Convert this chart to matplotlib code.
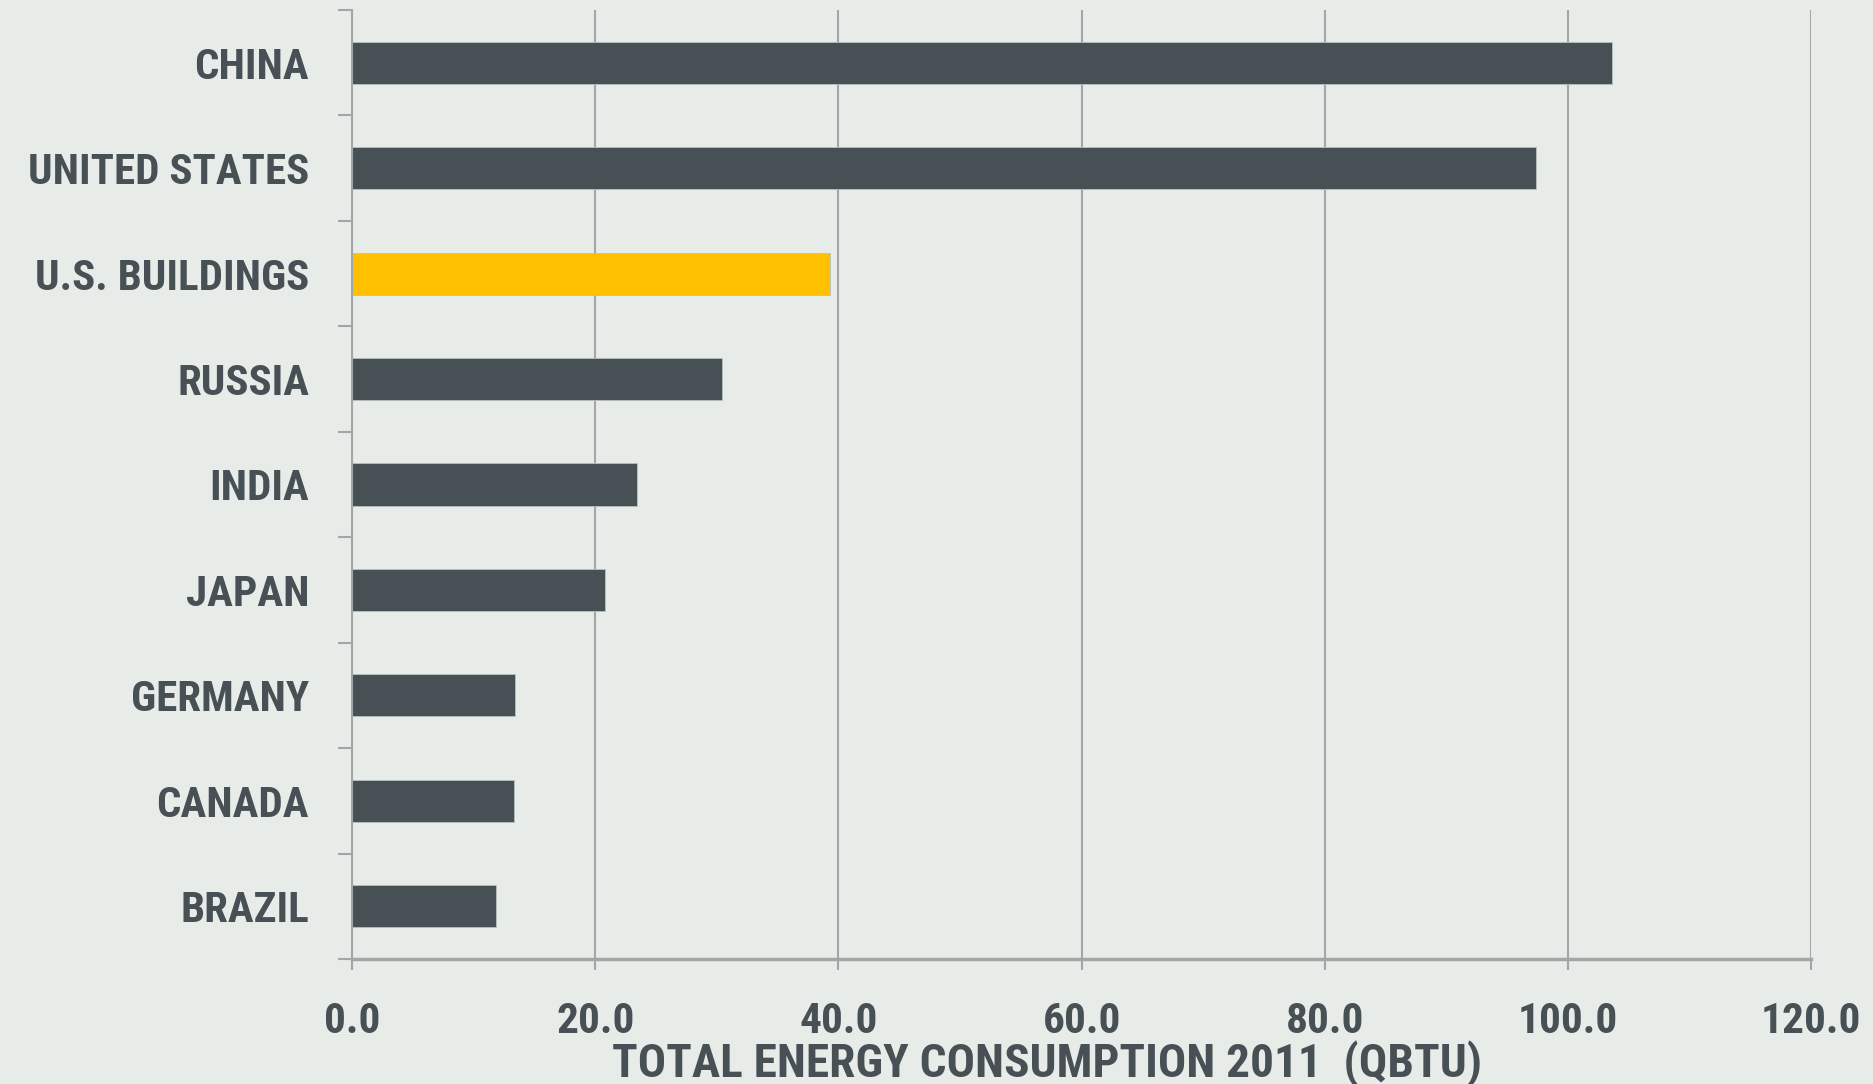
import matplotlib
matplotlib.use('Agg')
import matplotlib.pyplot as plt
from matplotlib.ticker import FixedLocator
from matplotlib import font_manager

# data
countries = ['CHINA', 'UNITED STATES', 'U.S. BUILDINGS', 'RUSSIA', 'INDIA',
             'JAPAN', 'GERMANY', 'CANADA', 'BRAZIL']
energy_qbtu = [103.6, 97.4, 39.3, 30.4, 23.4, 20.8, 13.4, 13.3, 11.8]
highlight = 'U.S. BUILDINGS'
x_ticks = [0, 20, 40, 60, 80, 100, 120]
x_title = 'TOTAL ENERGY CONSUMPTION 2011  (QBTU)'

bg = '#e8ece9'
dark = '#475054'
gold = '#ffc000'
grid_c = '#a3a6a6'

# narrow sans if there is one, else Roboto
names = {f.name for f in font_manager.fontManager.ttflist}
fam = 'DejaVu Sans'
for f in ['Roboto Condensed', 'Open Sans Condensed', 'Liberation Sans Narrow',
          'Roboto', 'Lato']:
    if f in names:
        fam = f
        break
plt.rcParams['font.family'] = [fam, 'DejaVu Sans']

fig = plt.figure(figsize=(18.73, 10.84), dpi=100, facecolor=bg)
rend = fig.canvas.get_renderer()


def fit_size(txt, width_px, max_size):
    # font size so that txt is about width_px wide
    t = fig.text(0, 0, txt, fontsize=20, fontweight='bold')
    w = t.get_window_extent(rend).width
    t.remove()
    return min(max_size, 20 * width_px / w)


cat_fs = fit_size('UNITED STATES', 283, 31)
num_fs = fit_size('100.0', 100, 33)
lab_fs = fit_size(x_title, 888, 34)

ax = fig.add_axes([0.188, 0.1153, 0.779, 0.8755], facecolor=bg)

cols = [gold if c == highlight else dark for c in countries]
ypos = range(len(countries))
ax.barh(ypos, energy_qbtu, height=0.4, color=cols, edgecolor='#b9c0c0',
        linewidth=0.6, zorder=3)

ax.set_xlim(0, 120)
ax.set_ylim(len(countries) - 0.5, -0.5)
ax.xaxis.set_major_locator(FixedLocator(x_ticks))
ax.set_xticklabels(['%.1f' % v for v in x_ticks])
ax.grid(axis='x', color=grid_c, linewidth=1.5, zorder=0)

ax.set_yticks(list(ypos))
ax.set_yticklabels(countries)
ax.yaxis.set_minor_locator(FixedLocator([i - 0.5 for i in range(len(countries) + 1)]))
ax.tick_params(axis='y', which='major', length=0, pad=31, labelsize=cat_fs,
               labelcolor=dark)
ax.tick_params(axis='y', which='minor', length=10, width=1.5, color=grid_c)
ax.tick_params(axis='x', length=8, width=1.5, color=grid_c, pad=22,
               labelsize=num_fs, labelcolor=dark)
for lab in ax.get_yticklabels() + ax.get_xticklabels():
    lab.set_fontweight('bold')

for s in ['top', 'right']:
    ax.spines[s].set_visible(False)
ax.spines['left'].set_color(grid_c)
ax.spines['left'].set_linewidth(1.5)
ax.spines['bottom'].set_color(grid_c)
ax.spines['bottom'].set_linewidth(2.5)
ax.spines['left'].set_zorder(4)

ax.set_xlabel(x_title, fontsize=lab_fs, fontweight='bold', color=dark)
ax.xaxis.set_label_coords(0.476, -0.11)
ax.xaxis.label.set_va('center')

fig.savefig('out.png', dpi=100, facecolor=bg)
